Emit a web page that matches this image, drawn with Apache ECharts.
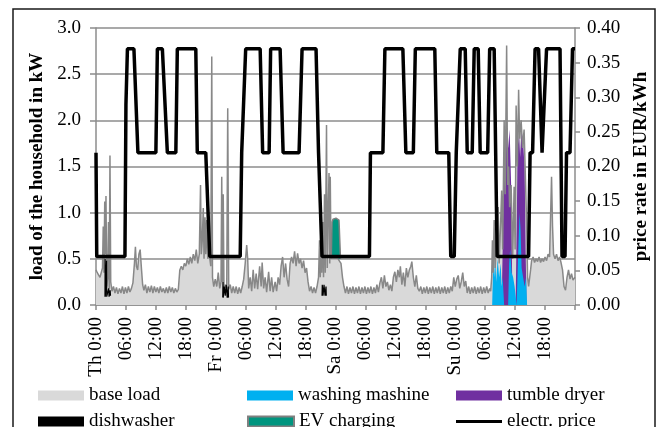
<!DOCTYPE html>
<html><head><meta charset="utf-8">
<script src="https://cdn.jsdelivr.net/npm/echarts@6/dist/echarts.min.js"></script>
<style>html,body{margin:0;padding:0;background:#fff}#c{width:660px;height:427px}</style>
</head><body><div id="c"></div>
<script>
// x positions are hours since Thursday 0:00
const tickLabels = ['Th 0:00','06:00','12:00','18:00','Fr 0:00','06:00','12:00','18:00','Sa 0:00','06:00','12:00','18:00','Su 0:00','06:00','12:00','18:00',''];

const priceRate = [[0,0.22],[0.15,0.07],[5.8,0.07],[6.0,0.29],[6.3,0.37],[7.6,0.37],[8.4,0.22],[12.0,0.22],[12.3,0.37],[13.3,0.37],[14.3,0.22],[16.0,0.22],[16.3,0.37],[20.0,0.37],[20.3,0.22],[22.0,0.22],[22.8,0.07],
[28.9,0.07],[29.2,0.22],[29.5,0.22],[30.0,0.37],[32.9,0.37],[33.4,0.22],[34.7,0.22],[35.0,0.37],[36.9,0.37],[37.5,0.22],[40.7,0.22],[41.3,0.37],[44.1,0.37],[44.6,0.22],[44.8,0.22],[45.3,0.07],
[54.8,0.07],[55.0,0.22],[57.5,0.22],[57.9,0.37],[61.5,0.37],[62.1,0.22],[63.6,0.22],[64.0,0.37],[67.9,0.37],[68.3,0.22],[70.7,0.22],[71.1,0.07],[71.8,0.07],[72.2,0.22],[72.6,0.22],[73.0,0.37],[74.0,0.37],[74.4,0.22],[75.4,0.22],[75.8,0.37],[76.6,0.37],[77.0,0.22],[78.5,0.22],[78.9,0.37],[79.8,0.37],[80.4,0.07],
[86.7,0.07],[87.0,0.22],[87.5,0.22],[88.0,0.37],[88.7,0.37],[89.4,0.22],[89.8,0.22],[90.3,0.37],[93.0,0.37],[93.4,0.07],[94.0,0.07],[94.3,0.22],[95.0,0.22],[95.5,0.37],[96,0.37]];

const baseLoad = [[0,0.38],[0.25,0.35],[0.5,0.33],[0.8,0.3],[1.1,0.28],[1.3,0.4],[1.45,0.85],[1.6,0.35],[1.75,1.12],[1.9,0.55],[2.0,1.18],[2.15,0.2],[2.35,0.3],[2.5,0.9],[2.65,0.18],[2.8,1.62],[2.95,0.25],[3.2,0.15],[3.5,0.2],[3.8,0.13],[4.1,0.19],[4.4,0.12],[4.7,0.18],[5.0,0.13],[5.3,0.2],[5.6,0.12],[5.9,0.19],[6.2,0.13],[6.5,0.2],[6.8,0.14],[7.1,0.18],[7.4,0.24],[7.7,0.45],[7.9,0.63],[8.1,0.42],[8.35,0.38],[8.6,0.55],[8.85,0.6],[9.1,0.4],[9.35,0.22],[9.6,0.16],[9.9,0.22],[10.2,0.13],[10.5,0.2],[10.8,0.14],[11.1,0.21],[11.4,0.13],[11.7,0.2],[12.0,0.14],[12.3,0.19],[12.6,0.13],[12.9,0.2],[13.2,0.14],[13.5,0.18],[13.8,0.13],[14.1,0.19],[14.4,0.13],[14.7,0.2],[15.0,0.14],[15.3,0.19],[15.6,0.13],[15.9,0.18],[16.2,0.14],[16.5,0.17],[16.8,0.38],[17.1,0.42],[17.4,0.38],[17.7,0.45],[18.0,0.42],[18.3,0.5],[18.6,0.44],[18.9,0.52],[19.2,0.45],[19.5,0.55],[19.8,0.48],[20.1,0.6],[20.4,0.45],[20.7,0.55],[20.95,1.3],[21.1,0.55],[21.3,0.7],[21.5,1.05],[21.65,0.5],[21.85,0.95],[22.0,0.55],[22.2,0.92],[22.4,0.5],[22.7,0.55],[23.0,0.42],[23.2,2.69],[23.35,0.3],[23.6,0.2],[23.9,0.28],
[24.2,0.2],[24.5,0.35],[24.8,0.18],[25.05,0.25],[25.2,1.39],[25.35,0.25],[25.5,1.2],[25.65,0.15],[25.9,0.22],[26.2,0.18],[26.4,2.13],[26.6,0.17],[26.9,0.22],[27.2,0.13],[27.5,0.2],[27.8,0.13],[28.1,0.2],[28.4,0.12],[28.7,0.19],[29.0,0.13],[29.3,0.2],[29.6,0.28],[29.9,0.45],[30.2,0.65],[30.4,0.5],[30.6,0.18],[30.9,0.3],[31.2,0.15],[31.5,0.38],[31.8,0.18],[32.1,0.34],[32.4,0.17],[32.8,0.42],[33.1,0.2],[33.3,0.46],[33.6,0.18],[33.9,0.3],[34.2,0.14],[34.6,0.36],[34.9,0.15],[35.2,0.3],[35.5,0.14],[35.9,0.25],[36.2,0.15],[36.5,0.3],[36.8,0.22],[37.1,0.42],[37.4,0.52],[37.7,0.3],[38.0,0.45],[38.3,0.28],[38.6,0.2],[38.9,0.45],[39.2,0.52],[39.5,0.45],[39.8,0.58],[40.1,0.42],[40.4,0.56],[40.7,0.45],[41.0,0.5],[41.3,0.4],[41.6,0.48],[41.9,0.35],[42.2,0.4],[42.5,0.25],[42.8,0.15],[43.1,0.2],[43.4,0.13],[43.7,0.19],[44.0,0.13],[44.3,0.2],[44.6,0.3],[44.8,0.7],[44.95,0.3],[45.1,1.05],[45.25,0.35],[45.45,0.9],[45.6,0.3],[45.8,1.2],[45.95,0.35],[46.2,1.95],[46.35,0.4],[46.5,0.9],[46.7,1.43],[46.85,0.45],[46.95,1.39],[47.1,0.5],
[47.3,0.5],[47.7,0.5],[48.1,0.49],[48.5,0.5],[48.9,0.5],[49.1,0.45],[49.4,0.3],[49.7,0.2],[50.0,0.13],[50.3,0.2],[50.6,0.12],[50.9,0.19],[51.2,0.13],[51.5,0.2],[51.8,0.12],[52.1,0.19],[52.4,0.13],[52.7,0.2],[53.0,0.12],[53.3,0.19],[53.6,0.13],[53.9,0.2],[54.2,0.12],[54.5,0.19],[54.8,0.13],[55.1,0.2],[55.4,0.12],[55.7,0.19],[56.0,0.13],[56.3,0.22],[56.6,0.14],[56.9,0.24],[57.2,0.3],[57.5,0.18],[57.8,0.32],[58.1,0.2],[58.4,0.25],[58.7,0.16],[59.0,0.22],[59.3,0.15],[59.6,0.3],[59.9,0.36],[60.2,0.25],[60.5,0.38],[60.8,0.3],[61.0,0.42],[61.3,0.22],[61.6,0.35],[61.9,0.2],[62.2,0.4],[62.5,0.3],[62.8,0.38],[63.1,0.42],[63.3,0.47],[63.6,0.3],[63.9,0.2],[64.2,0.32],[64.5,0.18],[64.8,0.15],[65.1,0.2],[65.4,0.12],[65.7,0.19],[66.0,0.13],[66.3,0.2],[66.6,0.12],[66.9,0.19],[67.2,0.13],[67.5,0.2],[67.8,0.12],[68.1,0.19],[68.4,0.13],[68.7,0.2],[69.0,0.12],[69.3,0.19],[69.6,0.13],[69.9,0.2],[70.2,0.12],[70.5,0.19],[70.8,0.13],[71.1,0.2],[71.4,0.15],[71.7,0.3],[72.0,0.2],[72.3,0.28],[72.6,0.32],
[72.9,0.18],[73.2,0.25],[73.5,0.35],[73.8,0.2],[74.1,0.26],[74.4,0.13],[74.7,0.2],[75.0,0.12],[75.3,0.19],[75.6,0.13],[75.9,0.2],[76.2,0.12],[76.5,0.19],[76.8,0.13],[77.1,0.2],[77.4,0.12],[77.7,0.19],[78.0,0.13],[78.3,0.2],[78.6,0.13],[78.9,0.18],[79.1,0.15],[79.3,0.3],[79.45,0.7],[79.6,0.35],[79.8,0.92],[80.0,0.4],[80.3,0.75],[80.6,1.06],[80.8,0.45],[81.1,0.9],[81.3,1.24],[81.5,0.6],[81.8,2.0],[82.0,1.2],[82.3,2.81],[82.5,1.3],[82.7,1.5],[82.9,1.06],[83.2,1.3],[83.5,0.5],[83.8,1.28],[84.0,0.6],[84.2,2.16],[84.45,1.5],[84.7,2.33],[84.9,1.8],[85.2,2.0],[85.5,1.7],[85.8,1.9],[86.0,1.5],[86.3,0.9],[86.5,0.3],[86.7,0.2],[86.9,0.18],[87.1,0.38],[87.3,0.48],[87.6,0.52],[87.9,0.46],[88.2,0.5],[88.5,0.47],[88.8,0.52],[89.1,0.46],[89.4,0.5],[89.7,0.47],[90.0,0.52],[90.3,0.48],[90.6,0.55],[90.9,0.52],[91.1,0.95],[91.3,1.39],[91.5,0.85],[91.7,0.55],[92.0,0.5],[92.3,0.55],[92.6,0.48],[92.9,0.52],[93.2,0.46],[93.5,0.38],[93.8,0.2],[94.1,0.16],[94.4,0.3],[94.7,0.38],[95.0,0.28],[95.3,0.34],[95.6,0.27],[96,0.3]];

const washingMachine = [[79.4,0],[79.6,0.45],[79.8,0.3],[80.0,0.55],[80.2,0.25],[80.5,0.5],[80.8,0.3],[81.1,0.45],[81.3,0.2],[81.5,0.3],[81.8,0],[82.6,0],[82.8,0.45],[83.0,0.6],[83.3,0.35],[83.6,0.3],[83.9,0.2],[84.3,0],[84.5,0],[84.7,0.7],[84.9,1.0],[85.1,0.8],[85.3,0.4],[85.6,0.3],[85.9,0.2],[86.2,0.3],[86.4,0]];

const tumbleDryer = [[81.3,0],[81.5,0.6],[81.7,1.4],[81.9,1.95],[82.1,1.5],[82.3,1.9],[82.6,1.7],[82.9,1.9],[83.2,1.3],[83.4,0.3],[83.6,0],[84.1,0],[84.3,0.8],[84.5,1.7],[84.8,1.85],[85.0,1.6],[85.3,1.9],[85.6,1.75],[85.9,1.5],[86.1,0.6],[86.3,0]];

// '-' separates the dishwasher runs
const dishwasher = [[1.8,0.09],[1.83,0.5],[1.87,0.09],[2.08,0.1],[2.11,0.48],[2.15,0.09],[2.5,0.1],[2.55,0.18],[2.62,0.09],[2.8,0.1],[2.84,0.16],[2.9,0.1],[3.0,'-'],
[25.4,0.08],[25.45,0.25],[25.5,0.08],[25.7,0.2],[25.9,0.1],[26.1,0.22],[26.3,0.08],[26.5,0.2],[26.55,0.08],[26.7,'-'],
[45.3,0.1],[45.35,0.22],[45.5,0.1],[45.7,0.22],[45.9,0.1],[46.1,0.2],[46.15,0.1]];

const evCharging = [[47.15,0.5],[47.3,0.9],[47.5,0.93],[47.8,0.92],[48.1,0.94],[48.4,0.93],[48.7,0.92],[48.85,0.9],[49.0,0.5]];

const FONT = 'Liberation Serif';
const GRID = '#8c8c8c';
const txt = {fontFamily: FONT, fontSize: 19, color: '#000'};

function lg(name, left, top, extra) {
  return Object.assign({data: [name], left: left, top: top, icon: 'rect', itemWidth: 46, itemHeight: 10, padding: 0, selectedMode: false, textStyle: txt}, extra);
}

const chart = echarts.init(document.getElementById('c'), null, {renderer: 'canvas'});
chart.setOption({
  animation: false,
  backgroundColor: '#fff',
  grid: {left: 96, right: 85, top: 28, bottom: 122},
  legend: [
    lg('base load', 38, 386, {itemStyle: {color: '#d9d9d9', borderWidth: 0}}),
    lg('washing mashine', 247, 386, {itemStyle: {color: '#00b0f0', borderWidth: 0}}),
    lg('tumble dryer', 456, 386, {itemStyle: {color: '#7030a0', borderWidth: 0}}),
    lg('dishwasher', 38, 412, {itemStyle: {color: '#000', borderWidth: 0}}),
    lg('EV charging', 247, 412, {itemStyle: {color: '#00957f', borderColor: '#808080', borderWidth: 2}}),
    lg('electr. price', 456, 412, {itemHeight: 3, itemStyle: {color: '#000', borderWidth: 0}})
  ],
  xAxis: {
    type: 'value', min: 0, max: 96, interval: 6,
    axisLine: {lineStyle: {color: GRID, width: 1.5}},
    axisTick: {length: 5, lineStyle: {color: GRID, width: 1.5}},
    splitLine: {show: false},
    axisLabel: Object.assign({rotate: 90, margin: 12, formatter: function (v) { return tickLabels[Math.round(v / 6)] || ''; }}, txt)
  },
  yAxis: [{
    type: 'value', min: 0, max: 3, interval: 0.5,
    name: 'load of the household in kW', nameLocation: 'middle', nameGap: 39, nameRotate: 90,
    nameTextStyle: Object.assign({fontWeight: 'bold'}, txt),
    axisLine: {show: true, lineStyle: {color: GRID, width: 1.5}},
    axisTick: {show: true, length: 6, lineStyle: {color: GRID, width: 1.5}},
    splitLine: {show: true, lineStyle: {color: GRID, width: 1.5}},
    axisLabel: Object.assign({margin: 15, formatter: function (v) { return v.toFixed(1); }}, txt)
  }, {
    type: 'value', position: 'right', min: 0, max: 0.4, interval: 0.05,
    name: 'price rate in EUR/kWh', nameLocation: 'middle', nameGap: 46, nameRotate: 90,
    nameTextStyle: Object.assign({fontWeight: 'bold'}, txt),
    axisLine: {show: true, lineStyle: {color: GRID, width: 1.5}},
    axisTick: {show: true, length: 5, lineStyle: {color: GRID, width: 1.5}},
    splitLine: {show: false},
    axisLabel: Object.assign({margin: 12, formatter: function (v) { return v.toFixed(2); }}, txt)
  }],
  series: [
    {name: 'base load', type: 'line', data: baseLoad, symbol: 'none', itemStyle: {color: '#d9d9d9'},
     lineStyle: {color: '#888888', width: 1.5}, areaStyle: {color: '#d9d9d9', opacity: 1}},
    {name: 'EV charging', type: 'line', data: evCharging, symbol: 'none', itemStyle: {color: '#00957f'},
     lineStyle: {color: '#808080', width: 1.5}, areaStyle: {color: '#00957f', opacity: 1, origin: 0.5}},
    {name: 'tumble dryer', type: 'line', data: tumbleDryer, symbol: 'none', itemStyle: {color: '#7030a0'},
     lineStyle: {width: 0}, areaStyle: {color: '#7030a0', opacity: 1}},
    {name: 'washing mashine', type: 'line', data: washingMachine, symbol: 'none', itemStyle: {color: '#00b0f0'},
     lineStyle: {width: 0}, areaStyle: {color: '#00b0f0', opacity: 1}},
    {name: 'dishwasher', type: 'line', data: dishwasher, symbol: 'none', connectNulls: false, itemStyle: {color: '#000'},
     lineStyle: {color: '#000', width: 1.2}},
    {name: 'electr. price', type: 'line', yAxisIndex: 1, data: priceRate, symbol: 'none', itemStyle: {color: '#000'},
     lineStyle: {color: '#000', width: 3.5}}
  ],
  graphic: [{type: 'rect', silent: true, z: 100, shape: {x: 13, y: 9, width: 642, height: 440},
    style: {fill: 'none', stroke: '#1a1a1a', lineWidth: 1.5}}]
});
</script>
</body></html>
